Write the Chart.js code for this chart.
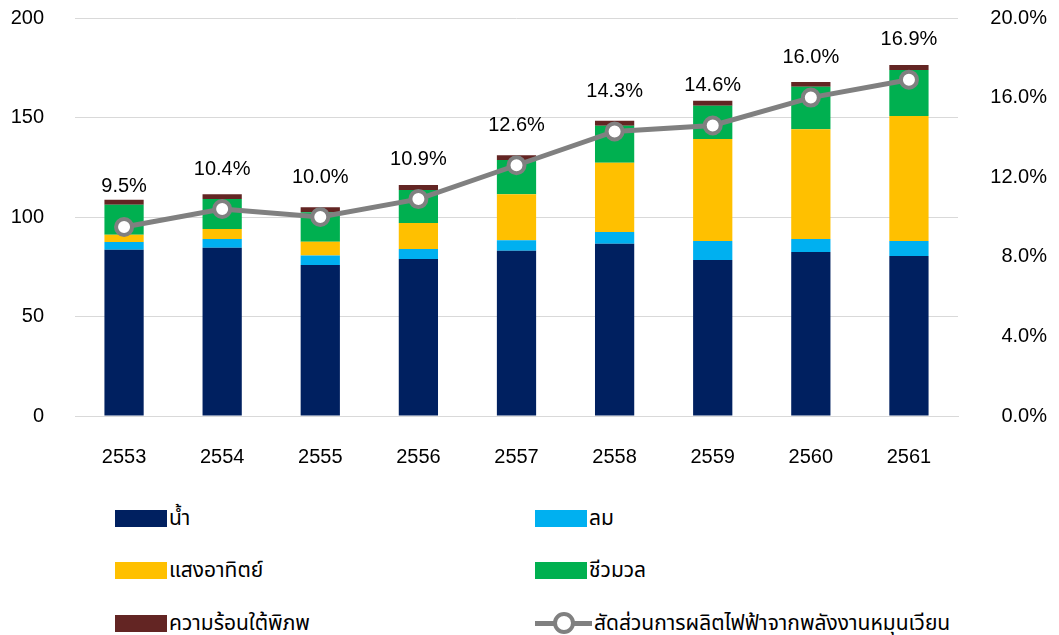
<!DOCTYPE html>
<html>
<head>
<meta charset="utf-8">
<script src="https://cdn.jsdelivr.net/npm/chart.js@4.4.1/dist/chart.umd.min.js"></script>
<style>
  body { margin: 0; background: #fff; }
  #wrap { position: relative; width: 1059px; height: 635px; overflow: hidden; }
  #chartBox { position: absolute; left: 0; top: 0; width: 1059px; height: 485px; }
  #legend { position: absolute; left: 115px; top: 500px; width: 900px;
            display: grid; grid-template-columns: 420px 420px; grid-auto-rows: 52.5px;
            font-family: "Noto Sans Thai", "Tahoma", "Liberation Sans", sans-serif; font-size: 21px; color: #000; }
  .item { display: flex; align-items: center; height: 36px; }
  .box { width: 52px; height: 17px; margin-right: 2px; flex: none; }
  .lineSym { position: relative; width: 57px; height: 22px; margin-right: 2px; flex: none; }
  .lineSym .bar { position: absolute; left: 0; top: 8.5px; width: 57px; height: 5px; background: #808080; }
  .lineSym .dot { position: absolute; left: 18px; top: 0; width: 14px; height: 14px; border: 4px solid #808080;
                  border-radius: 50%; background: #fff; }
</style>
</head>
<body>
<div id="wrap">
  <div id="chartBox"><canvas id="chart"></canvas></div>
  <div id="legend"></div>
</div>
<script>
const years = ['2553', '2554', '2555', '2556', '2557', '2558', '2559', '2560', '2561'];

// generation by source (stacked)
const hydro      = [83.5, 84.6, 75.9, 78.9, 83.1, 86.6, 78.4, 82.4, 80.4];
const wind       = [4.0, 4.3, 4.8, 5.0, 5.2, 5.9, 9.5, 6.5, 7.5];
const solar      = [3.6, 5.1, 6.9, 13.1, 23.1, 34.8, 51.3, 55.2, 62.9];
const biomass    = [15.0, 15.0, 14.8, 16.6, 17.2, 18.6, 16.7, 21.4, 23.1];
const geothermal = [2.6, 2.4, 2.5, 2.5, 2.4, 2.5, 2.5, 2.3, 2.5];

// renewable share (%)
const share = [9.5, 10.4, 10.0, 10.9, 12.6, 14.3, 14.6, 16.0, 16.9];

const leftTicks = [0, 50, 100, 150, 200];
const rightTicks = [0, 4, 8, 12, 16, 20];

const FONT = '"Liberation Sans", Arial, sans-serif';

// draws the % label above each line point
const shareLabels = {
  id: 'shareLabels',
  afterDatasetsDraw(chart) {
    const ctx = chart.ctx;
    const meta = chart.getDatasetMeta(5);
    ctx.save();
    ctx.font = '20px ' + FONT;
    ctx.fillStyle = '#000';
    ctx.textAlign = 'center';
    ctx.textBaseline = 'middle';
    meta.data.forEach((pt, i) => {
      ctx.fillText(share[i].toFixed(1) + '%', pt.x, pt.y - 40);
    });
    ctx.restore();
  }
};

// keep the tick padding from pushing the plot area down
const noVPad = s => { s.paddingTop = 0; s.paddingBottom = 0; };

const ctx = document.getElementById('chart').getContext('2d');
const chart = new Chart(ctx, {
  data: {
    labels: years,
    datasets: [
      { type: 'bar', label: 'น้ำ', data: hydro, backgroundColor: '#002060', yAxisID: 'y', order: 2 },
      { type: 'bar', label: 'ลม', data: wind, backgroundColor: '#00b0f0', yAxisID: 'y', order: 2 },
      { type: 'bar', label: 'แสงอาทิตย์', data: solar, backgroundColor: '#ffc000', yAxisID: 'y', order: 2 },
      { type: 'bar', label: 'ชีวมวล', data: biomass, backgroundColor: '#00b050', yAxisID: 'y', order: 2 },
      { type: 'bar', label: 'ความร้อนใต้พิภพ', data: geothermal, backgroundColor: '#632523', yAxisID: 'y', order: 2 },
      {
        type: 'line', label: 'สัดส่วนการผลิตไฟฟ้าจากพลังงานหมุนเวียน', data: share, yAxisID: 'y1', order: 1,
        borderColor: '#808080', borderWidth: 5, backgroundColor: '#fff',
        pointRadius: 8, pointBorderWidth: 4, pointBackgroundColor: '#fff', pointBorderColor: '#808080',
        tension: 0
      }
    ]
  },
  options: {
    responsive: true,
    maintainAspectRatio: false,
    animation: false,
    layout: { padding: { top: 18, bottom: 0, left: 0, right: 12 } },
    datasets: { bar: { categoryPercentage: 1, barPercentage: 0.4 } },
    plugins: { legend: { display: false }, tooltip: { enabled: false } },
    scales: {
      x: {
        stacked: true,
        grid: { display: false, drawTicks: false },
        border: { color: '#d9d9d9', width: 1 },
        ticks: { font: { size: 20, family: FONT }, color: '#000', padding: 29 },
        afterFit: s => { s.height = 485 - 416; }
      },
      y: {
        stacked: true,
        min: 0, max: 200,
        afterBuildTicks: s => { s.ticks = leftTicks.map(v => ({ value: v })); },
        grid: { color: '#d9d9d9', lineWidth: 1, drawTicks: false },
        border: { display: false },
        ticks: { font: { size: 20, family: FONT }, color: '#000', padding: 31 },
        afterFit: s => { s.width = 75; noVPad(s); }
      },
      y1: {
        position: 'right',
        min: 0, max: 20,
        afterBuildTicks: s => { s.ticks = rightTicks.map(v => ({ value: v })); },
        grid: { display: false, drawTicks: false },
        border: { display: false },
        ticks: {
          font: { size: 20, family: FONT }, color: '#000', padding: 22, crossAlign: 'far',
          callback: v => v.toFixed(1) + '%'
        },
        afterFit: s => { s.width = 1059 - 12 - 958; noVPad(s); }
      }
    }
  },
  plugins: [shareLabels]
});

// legend in two columns built from datasets
const legend = document.getElementById('legend');
chart.data.datasets.forEach(ds => {
  const item = document.createElement('div');
  item.className = 'item';
  let sym;
  if (ds.type === 'line') {
    sym = document.createElement('div');
    sym.className = 'lineSym';
    sym.innerHTML = '<div class="bar"></div><div class="dot"></div>';
  } else {
    sym = document.createElement('div');
    sym.className = 'box';
    sym.style.background = ds.backgroundColor;
  }
  const txt = document.createElement('span');
  txt.textContent = ds.label;
  item.appendChild(sym);
  item.appendChild(txt);
  legend.appendChild(item);
});
</script>
</body>
</html>
